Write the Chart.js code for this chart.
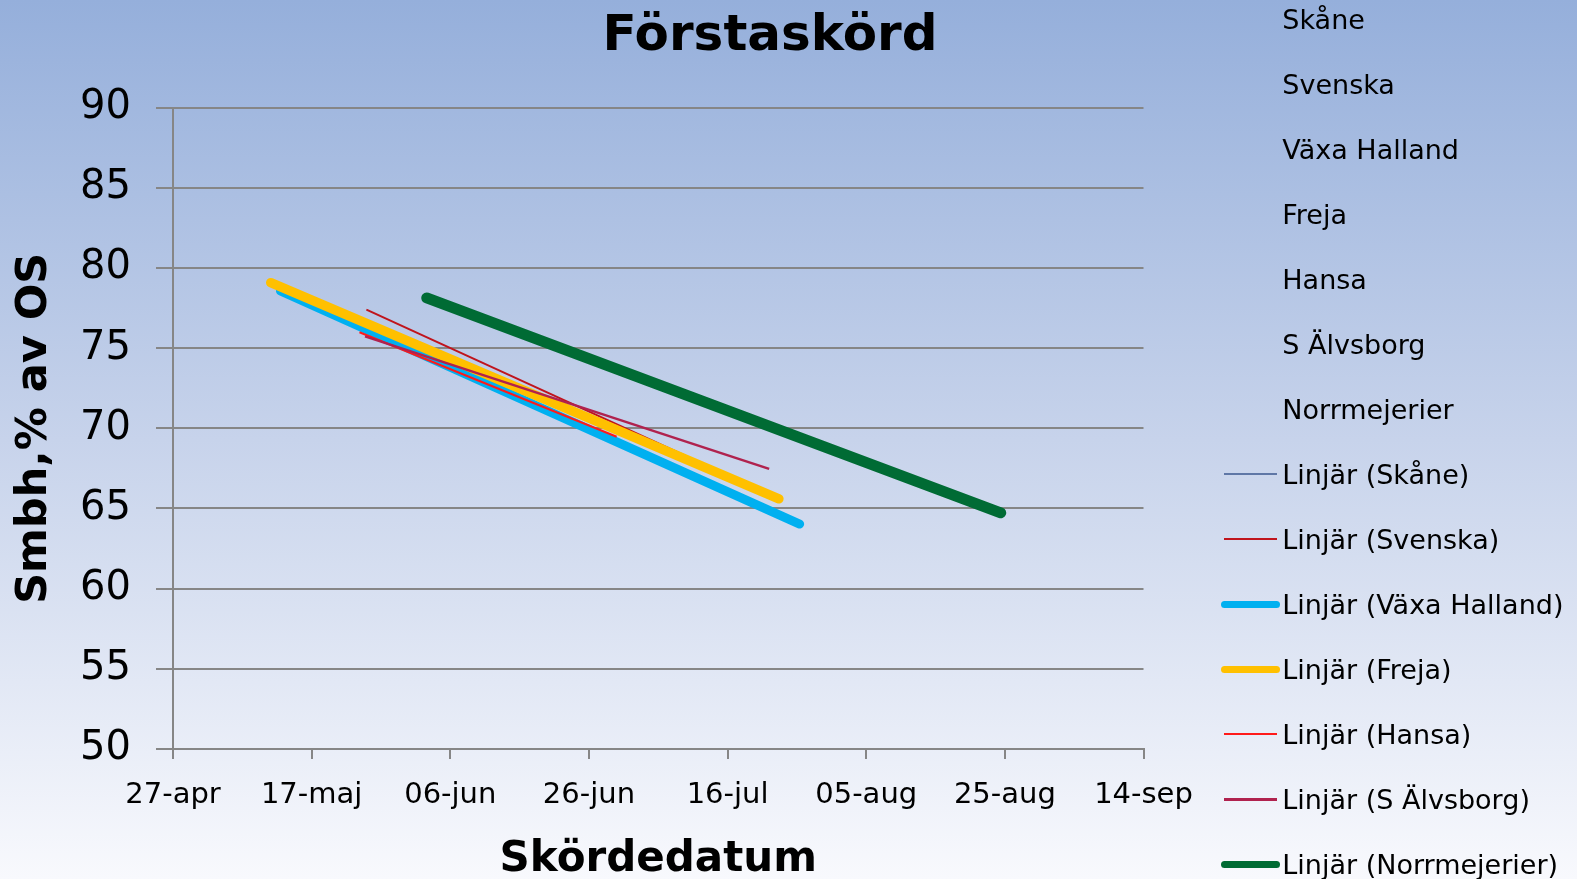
<!DOCTYPE html>
<html lang="sv">
<head>
<meta charset="utf-8">
<title>Förstaskörd</title>
<script src="https://cdn.jsdelivr.net/npm/chart.js@4.4.1/dist/chart.umd.min.js"></script>
<style>
    html, body { margin: 0; padding: 0; overflow: hidden; }
    body { font-family: 'DejaVu Sans', Verdana, sans-serif; color: #000; }
    #page {
        position: relative; width: 1577px; height: 879px; overflow: hidden;
        background: linear-gradient(to bottom, #95afdb 0%, #c7d3eb 50%, #f8f9fd 100%);
    }
    #chartBox { position: absolute; left: 0; top: 0; width: 1577px; height: 900px; }
    #chartTitle {
        position: absolute; left: 0; top: 2.6px; width: 1540px;
        line-height: 60px; text-align: center; font-size: 50px; font-weight: bold;
    }
    #legend .txt { position: absolute; left: 1282.3px; height: 65px; line-height: 65px; font-size: 27px; white-space: nowrap; }
    #legend .swatch { position: absolute; }
</style>
</head>
<body>
<div id="page">
    <div id="chartBox"><canvas id="harvestChart"></canvas></div>
    <div id="chartTitle">Förstaskörd</div>
    <div id="legend"></div>
</div>
<script>
// Serier (mätdata visas utan markörer, bara i förklaringen)
const seriesNames = ['Skåne', 'Svenska', 'Växa Halland', 'Freja', 'Hansa', 'S Älvsborg', 'Norrmejerier'];

// Skördedatum som dag på året (27-apr = dag 117)
const xTickLabels = ['27-apr', '17-maj', '06-jun', '26-jun', '16-jul', '05-aug', '25-aug', '14-sep'];
const xMin = 117;
const xStep = 20;
const xMax = xMin + xStep * (xTickLabels.length - 1);

// Linjära trendlinjer: start- och slutpunkt (dag, smbh %)
const skaneDays = [];
const skaneValues = [];
const svenskaDays = [144.9, 191.6];
const svenskaValues = [77.4, 68.15];
const vaxaDays = [132.5, 207.4];
const vaxaValues = [78.57, 64.03];
const frejaDays = [131.1, 204.4];
const frejaValues = [79.08, 65.6];
const hansaDays = [143.9, 181.0];
const hansaValues = [75.99, 69.47];
const alvsborgDays = [144.7, 203.0];
const alvsborgValues = [75.73, 67.47];
const norrDays = [153.6, 236.4];
const norrValues = [78.13, 64.73];

const trendDays = [skaneDays, svenskaDays, vaxaDays, frejaDays, hansaDays, alvsborgDays, norrDays];
const trendValues = [skaneValues, svenskaValues, vaxaValues, frejaValues, hansaValues, alvsborgValues, norrValues];

// Utseende
const trendColors = ['#5f77a6', '#c0141c', '#00b0f0', '#ffc000', '#ff1a1a', '#b0224e', '#006b34'];
const trendWidths = [2, 2, 9, 9.5, 2, 2.5, 11];
const gridColor = '#868686';

Chart.defaults.font.family = "'DejaVu Sans', Verdana, sans-serif";
Chart.defaults.color = '#000';

// Bygg dataset (senare serier ritas överst, som i Excel)
const datasets = seriesNames.map((name, i) => ({
    label: 'Linjär (' + name + ')',
    data: trendDays[i].map((d, k) => ({ x: d, y: trendValues[i][k] })),
    showLine: true,
    fill: false,
    tension: 0,
    borderColor: trendColors[i],
    backgroundColor: trendColors[i],
    borderWidth: trendWidths[i],
    borderCapStyle: trendWidths[i] > 4 ? 'round' : 'butt',
    pointRadius: 0,
    pointHoverRadius: 0,
    order: seriesNames.length - i
}));

const ctx = document.getElementById('harvestChart').getContext('2d');
const chart = new Chart(ctx, {
    type: 'scatter',
    data: { datasets: datasets },
    options: {
        responsive: true,
        maintainAspectRatio: false,
        animation: false,
        layout: { padding: { top: 107.6, right: 433.5, bottom: 0, left: 0 } },
        plugins: {
            legend: { display: false },
            title: { display: false },
            tooltip: { enabled: false }
        },
        scales: {
            x: {
                type: 'linear',
                min: xMin,
                max: xMax,
                afterFit: (scale) => { scale.height = 151; },
                ticks: {
                    stepSize: xStep,
                    autoSkip: false,
                    maxRotation: 0,
                    padding: 19,
                    font: { size: 29 },
                    callback: (value) => xTickLabels[Math.round((value - xMin) / xStep)]
                },
                grid: { drawOnChartArea: false, tickLength: 10, color: gridColor, lineWidth: 2 },
                border: { color: gridColor, width: 2 },
                title: {
                    display: true,
                    text: 'Skördedatum',
                    font: { size: 42, weight: 'bold' },
                    padding: { top: 0, bottom: 14.3 }
                }
            },
            y: {
                min: 50,
                max: 90,
                afterFit: (scale) => { scale.width = 173; },
                ticks: { stepSize: 5, padding: 25, font: { size: 40 } },
                grid: { color: gridColor, lineWidth: 2, tickLength: 17 },
                border: { color: gridColor, width: 2 },
                title: {
                    display: true,
                    text: 'Smbh,% av OS',
                    font: { size: 43, weight: 'bold' },
                    padding: { top: 9.2, bottom: 0 }
                }
            }
        }
    }
});

// Förklaring till höger: först serienamnen, sedan trendlinjerna
const legendEl = document.getElementById('legend');
const firstRowCenter = 19.3;
const rowGap = 65;
const rows = seriesNames.map(n => ({ text: n }))
    .concat(datasets.map(ds => ({ text: ds.label, color: ds.borderColor, width: ds.borderWidth })));

rows.forEach((row, i) => {
    const center = firstRowCenter + i * rowGap;
    if (row.color) {
        const h = Math.min(row.width, 7.5);
        const r = h > 4 ? h / 2 : 0;
        const sw = document.createElement('div');
        sw.className = 'swatch';
        sw.style.left = (1224.3 - r) + 'px';
        sw.style.width = (52.4 + 2 * r) + 'px';
        sw.style.top = (center - h / 2) + 'px';
        sw.style.height = h + 'px';
        sw.style.borderRadius = r + 'px';
        sw.style.background = row.color;
        legendEl.appendChild(sw);
    }
    const txt = document.createElement('div');
    txt.className = 'txt';
    txt.style.top = (center - 32.5) + 'px';
    txt.textContent = row.text;
    legendEl.appendChild(txt);
});
</script>
</body>
</html>
